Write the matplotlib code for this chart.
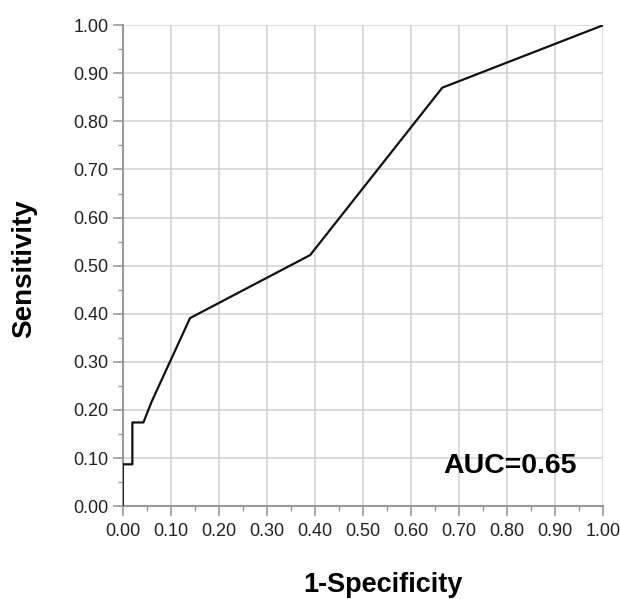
import matplotlib
matplotlib.use("Agg")
import matplotlib.pyplot as plt
from matplotlib.ticker import MultipleLocator, FormatStrFormatter

plt.rcParams['font.family'] = ['Liberation Sans', 'DejaVu Sans']

fpr = [0.0, 0.0, 0.02, 0.02, 0.043, 0.06, 0.14, 0.39, 0.665, 1.0]
tpr = [0.0, 0.087, 0.087, 0.174, 0.174, 0.217, 0.391, 0.522, 0.870, 1.0]
auc_text = "AUC=0.65"

fig = plt.figure(figsize=(6.2, 5.99), dpi=100)
ax = fig.add_axes([0.198, 0.155, 0.775, 0.803])
ax.plot(fpr, tpr, color='#111111', lw=1.6, zorder=3)
ax.set_xlim(0, 1)
ax.set_ylim(0, 1)
ax.xaxis.set_major_locator(MultipleLocator(0.1))
ax.yaxis.set_major_locator(MultipleLocator(0.1))
ax.xaxis.set_minor_locator(MultipleLocator(0.05))
ax.yaxis.set_minor_locator(MultipleLocator(0.05))
ax.xaxis.set_major_formatter(FormatStrFormatter('%.2f'))
ax.yaxis.set_major_formatter(FormatStrFormatter('%.2f'))
ax.grid(True, which='major', color='#d4d4d4', lw=1.2)
for s in ['top', 'right']:
    ax.spines[s].set_visible(False)
for s in ['left', 'bottom']:
    ax.spines[s].set_color('#999999')
    ax.spines[s].set_linewidth(1.5)
ax.tick_params(which='major', length=7.2, color='#999999', width=1.2, labelsize=13, labelcolor='#222222')
ax.tick_params(axis='y', which='major', pad=3)
ax.tick_params(axis='x', which='major', pad=5)
ax.tick_params(which='minor', length=3.6, color='#999999', width=1.0)
ax.set_axisbelow(True)
fig.text(0.618, 0.023, '1-Specificity', fontsize=19.5, fontweight='bold', ha='center', va='center')
fig.text(0.039, 0.551, 'Sensitivity', fontsize=20, fontweight='bold', ha='center', va='center', rotation=90)
ax.text(0.805, 0.083, auc_text, fontsize=20.5, fontweight='bold', ha='center', va='center')
fig.savefig('out.png', dpi=100)
